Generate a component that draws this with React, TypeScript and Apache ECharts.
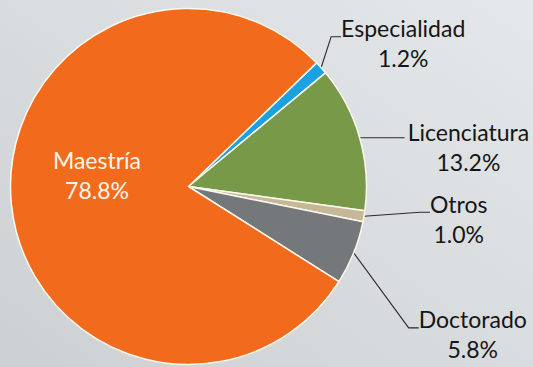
import React, { useEffect, useRef } from 'react';
import * as echarts from 'echarts';

const categories = ['Especialidad', 'Licenciatura', 'Otros', 'Doctorado', 'Maestría'];
const shares = [1.2, 13.2, 1.0, 5.8, 78.8];
const sliceColors = ['#1BA1E2', '#789A48', '#C7B799', '#75787B', '#F26B1D'];

export default function App() {
  const ref = useRef<HTMLDivElement>(null);

  useEffect(() => {
    if (!ref.current) return;
    const chart = echarts.init(ref.current, null, { renderer: 'svg' });

    const lineTail: Record<string, number> = { Especialidad: 10, Licenciatura: 45, Otros: 10, Doctorado: 10 };
    const labelShift: Record<string, number[]> = {
      Especialidad: [7, -36],
      Otros: [53, -9],
      Doctorado: [52, 70],
      'Maestría': [0, -21],
    };

    const font = { fontFamily: 'Lato', fontSize: 23, lineHeight: 30, align: 'center' as const };

    const data = categories.map((name, i) => {
      const inside = name === 'Maestría';
      return {
        name,
        value: shares[i],
        itemStyle: { color: sliceColors[i] },
        label: inside ? { position: 'inside' } : undefined,
        labelLine: inside ? { show: false } : { length: 0, length2: lineTail[name] },
      };
    });

    chart.setOption({
      animation: false,
      backgroundColor: new echarts.graphic.LinearGradient(1, 0, 0, 1, [
        { offset: 0, color: '#E5E8EA' },
        { offset: 1, color: '#CCD0D3' },
      ]),
      series: [
        {
          type: 'pie',
          center: [188.5, 186.5],
          radius: 178,
          startAngle: 44,
          clockwise: true,
          avoidLabelOverlap: false,
          itemStyle: { borderColor: '#FBF8EE', borderWidth: 1.5 },
          label: {
            show: true,
            position: 'outside',
            distanceToLabelLine: 3,
            formatter: (p: any) => {
              const pct = Number(p.value).toFixed(1) + '%';
              return p.name === 'Maestría'
                ? `{w|${p.name}}\n{w|${pct}}`
                : `{e| }\n{n|${p.name}}\n{n|${pct}}`;
            },
            rich: {
              e: { fontSize: 1, lineHeight: 18 },
              n: { ...font, color: '#151515' },
              w: { ...font, color: '#FFF6EA' },
            },
          },
          labelLine: {
            show: true,
            smooth: false,
            lineStyle: { color: '#2A2A2A', width: 1.1 },
          },
          labelLayout: (params: any) => {
            const name = categories[params.dataIndex];
            const s = labelShift[name];
            if (!s) return {};
            const r = params.labelRect;
            const ax = params.align === 'center' ? r.x + r.width / 2 : params.align === 'right' ? r.x + r.width : r.x;
            return { x: ax + s[0], y: r.y + r.height / 2 + s[1] };
          },
          emphasis: { disabled: true },
          data,
        },
      ],
    });

    return () => chart.dispose();
  }, []);

  return (
    <div
      ref={ref}
      style={{ position: 'absolute', left: 0, top: 0, width: 533, height: 367 }}
    />
  );
}
